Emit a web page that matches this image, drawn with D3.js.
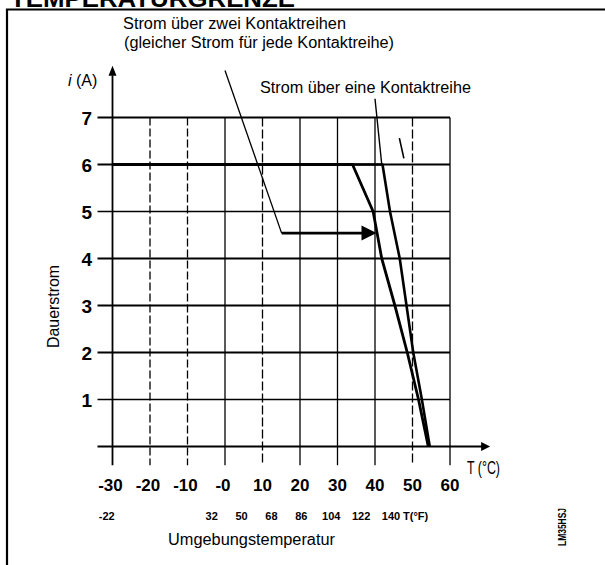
<!DOCTYPE html>
<html>
<head>
<meta charset="utf-8">
<script src="https://cdn.jsdelivr.net/npm/d3@7/dist/d3.min.js"></script>
<style>
  html, body { margin: 0; padding: 0; background: #fff; }
  svg { display: block; }
</style>
</head>
<body>
<svg id="chart" width="605" height="565"></svg>
<script>
// ---------- data ----------
const tempC = [-30, -20, -10, 0, 10, 20, 30, 40, 50, 60];
const tempCLabels = ["-30", "-20", "-10", "-0", "10", "20", "30", "40", "50", "60"];
const tempF = [-22, 32, 50, 68, 86, 104, 122, 140];
const currentTicks = [1, 2, 3, 4, 5, 6, 7];
const currentLabels = ["1", "2", "3", "4", "5", "6", "7"];

// derating curve pointed at by "Strom über zwei Kontaktreihen"
const zweiT = [-30, 34, 39.5, 41.8, 45.3, 48.6, 51.6, 54.2];
const zweiI = [6, 6, 5, 4, 3, 2, 1, 0];
// derating curve pointed at by "Strom über eine Kontaktreihe"
const eineT = [-30, 42, 44, 46.6, 48.4, 50.2, 52.5, 54.6];
const eineI = [6, 6, 5, 4, 3, 2, 1, 0];

// annotation leader lines (T in °C, I in A)
const zweiLeaderT = [0, 15.1, 40.4];
const zweiLeaderI = [8.0, 4.54, 4.54];
const eineLeaderT = [40.0, 41.8];
const eineLeaderI = [7.4, 6.0];
const markT = [46.5, 47.7];
const markI = [6.56, 6.13];

const titleText = "TEMPERATURGRENZE";
const noteZwei1 = "Strom über zwei Kontaktreihen";
const noteZwei2 = "(gleicher Strom für jede Kontaktreihe)";
const noteEine = "Strom über eine Kontaktreihe";
const yTitle = "Dauerstrom";
const xTitle = "Umgebungstemperatur";
const codeText = "LM35HSJ";

// ---------- scales ----------
const svg = d3.select("#chart");
const x = d3.scaleLinear().domain([-30, 60]).range([112.5, 450]);
const y = d3.scaleLinear().domain([0, 7]).range([446.5, 117.5]);
const xf = d3.scaleLinear().domain([-22, 32, 140]).range([106.7, 211.7, 391]);

const FONT = "'Liberation Sans Narrow','Arial Narrow','Liberation Sans',Arial,sans-serif";

// ---------- frame & title ----------
svg.append("path")
  .attr("d", "M7,566 V9.5 H606")
  .attr("fill", "none").attr("stroke", "#000").attr("stroke-width", 2.2);

svg.append("text")
  .attr("x", 10).attr("y", 7)
  .attr("font-family", "'Liberation Sans',Arial,sans-serif")
  .attr("font-weight", "bold").attr("font-size", 24)
  .attr("textLength", 285).attr("lengthAdjust", "spacingAndGlyphs")
  .text(titleText);

// ---------- grid ----------
const gridDash = {"-20": "8,3", "-10": "8,3", "10": "9,3", "50": "9,3"};
const g = svg.append("g").attr("stroke", "#000").attr("fill", "none");

// horizontal grid lines
const hWidth = {1: 1.3, 2: 1.8, 3: 1.8, 4: 1.8, 5: 1.4, 6: 2.2, 7: 2};
currentTicks.forEach(v => {
  g.append("line")
    .attr("x1", x(-34)).attr("x2", x(60))
    .attr("y1", y(v)).attr("y2", y(v))
    .attr("stroke-width", hWidth[v]);
});

// vertical grid lines + ticks below axis
tempC.forEach(t => {
  if (t === -30) return;
  g.append("line")
    .attr("x1", x(t)).attr("x2", x(t))
    .attr("y1", y(7)).attr("y2", y(-0.4))
    .attr("stroke-width", 1.3)
    .attr("stroke-dasharray", gridDash[t] || null);
});

// axes with arrows
g.append("line")
  .attr("x1", x(-34)).attr("x2", x(69.5))
  .attr("y1", y(0)).attr("y2", y(0))
  .attr("stroke-width", 2);
g.append("line")
  .attr("x1", x(-30)).attr("x2", x(-30))
  .attr("y1", y(-0.4)).attr("y2", y(7.9))
  .attr("stroke-width", 1.8);

const arrowX = x(70.7), arrowY = y(8.1);
svg.append("path")
  .attr("d", `M${arrowX},${y(0)} L${arrowX - 9},${y(0) - 4.5} L${arrowX - 9},${y(0) + 4.5} Z`)
  .attr("fill", "#000");
svg.append("path")
  .attr("d", `M${x(-30)},${arrowY} L${x(-30) - 4},${arrowY + 10} L${x(-30) + 4},${arrowY + 10} Z`)
  .attr("fill", "#000");

// ---------- curves ----------
const line = d3.line().x(d => x(d[0])).y(d => y(d[1]));
svg.append("path")
  .datum(zweiT.map((t, i) => [t, zweiI[i]]))
  .attr("d", line).attr("fill", "none")
  .attr("stroke", "#000").attr("stroke-width", 2.8).attr("stroke-linejoin", "round");
svg.append("path")
  .datum(eineT.map((t, i) => [t, eineI[i]]))
  .attr("d", line).attr("fill", "none")
  .attr("stroke", "#000").attr("stroke-width", 2.6).attr("stroke-linejoin", "round");

// ---------- leaders ----------
const zPts = zweiLeaderT.map((t, i) => [t, zweiLeaderI[i]]);
svg.append("path")
  .datum(zPts.slice(0, 2))
  .attr("d", line).attr("fill", "none").attr("stroke", "#000").attr("stroke-width", 1.3);
const tipX = x(zweiLeaderT[2]), tipY = y(zweiLeaderI[2]);
svg.append("line")
  .attr("x1", x(zweiLeaderT[1])).attr("x2", tipX - 12)
  .attr("y1", tipY).attr("y2", tipY)
  .attr("stroke", "#000").attr("stroke-width", 2.6);
svg.append("path")
  .attr("d", `M${tipX},${tipY} L${tipX - 15},${tipY - 7.5} L${tipX - 15},${tipY + 7.5} Z`)
  .attr("fill", "#000");

svg.append("path")
  .datum(eineLeaderT.map((t, i) => [t, eineLeaderI[i]]))
  .attr("d", line).attr("fill", "none").attr("stroke", "#000").attr("stroke-width", 1.4);
svg.append("path")
  .datum(markT.map((t, i) => [t, markI[i]]))
  .attr("d", line).attr("fill", "none").attr("stroke", "#000").attr("stroke-width", 1.6);

// ---------- texts ----------
function txt(str, xx, yy, size, opts = {}) {
  const t = svg.append("text")
    .attr("x", xx).attr("y", yy)
    .attr("font-family", FONT).attr("font-size", size)
    .attr("fill", "#000")
    .text(str);
  if (opts.weight) t.attr("font-weight", opts.weight);
  if (opts.anchor) t.attr("text-anchor", opts.anchor);
  if (opts.len) t.attr("textLength", opts.len).attr("lengthAdjust", "spacingAndGlyphs");
  if (opts.transform) t.attr("transform", opts.transform);
  return t;
}

txt(noteZwei1, 123, 29, 16, {len: 223});
txt(noteZwei2, 124, 48, 16, {len: 270});
txt(noteEine, 260, 93, 16.5, {len: 211});

const ia = svg.append("text").attr("x", 68).attr("y", 86)
  .attr("font-family", FONT).attr("font-size", 16);
ia.append("tspan").attr("font-style", "italic").text("i");
ia.append("tspan").text(" (A)");

txt(yTitle, 0, 0, 16, {anchor: "middle", len: 83, transform: "translate(59,306.5) rotate(-90)"});

// y tick labels
currentTicks.forEach((v, i) => {
  txt(currentLabels[i], 92, y(v) + 7, 19, {anchor: "end", weight: "bold"});
});

// x tick labels (°C)
tempC.forEach((t, i) => {
  const lab = tempCLabels[i];
  const shift = lab.startsWith("-") ? -2 : 0;
  txt(lab, x(t) + shift, 491, 17, {anchor: "middle", weight: "bold"});
});
txt("T (°C)", 467, 474, 19, {len: 33});

// x tick labels (°F)
tempF.forEach(f => {
  txt(String(f), xf(f), 520, 11, {anchor: "middle", weight: "bold"});
});
txt("T(°F)", 403, 520, 11, {weight: "bold"});

txt(xTitle, 168, 545, 16, {len: 167});
txt(codeText, 0, 0, 10, {anchor: "middle", weight: "bold", len: 38, transform: "translate(566,527) rotate(-90)"});
</script>
</body>
</html>
